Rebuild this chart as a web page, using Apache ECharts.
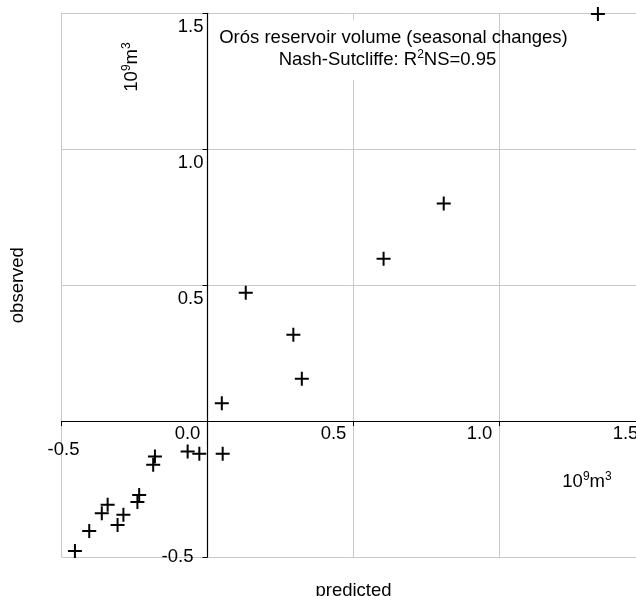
<!DOCTYPE html>
<html>
<head>
<meta charset="utf-8">
<title>Orós reservoir volume</title>
<script src="https://cdn.jsdelivr.net/npm/echarts@6/dist/echarts.min.js"></script>
<style>
  html, body {
    margin: 0;
    padding: 0;
    background: #fff;
  }
  #chart {
    width: 636px;
    height: 596px;
  }
</style>
</head>
<body>
<div id="chart"></div>
<script>
// seasonal volume changes, 10^9 m3
var predicted = [1.337, 0.809, 0.603, 0.131, 0.294, 0.323, 0.049, 0.052, -0.028, -0.068,
  -0.180, -0.186, -0.234, -0.240, -0.342, -0.362, -0.288, -0.308, -0.405, -0.454];
var observed = [1.497, 0.800, 0.597, 0.472, 0.318, 0.156, 0.066, -0.120, -0.120, -0.112,
  -0.130, -0.161, -0.272, -0.298, -0.308, -0.339, -0.345, -0.382, -0.404, -0.478];

var axisTicks = [-0.5, 0.0, 0.5, 1.0, 1.5];
var tickStep = 0.5;

var titleLine1 = "Orós reservoir volume (seasonal changes)";
var titleLine2 = "{n|Nash-Sutcliffe: R}{s|2}{n|NS=0.95}";
var unitText = "{n|10}{s|9}{n|m}{s|3}";

var font = "'Liberation Sans', Arial, sans-serif";
var fs = 18.5;

var points = [];
for (var i = 0; i < predicted.length; i++) {
  points.push([predicted[i], observed[i]]);
}

// plot box, axes cross at zero so shift them in by hand
var gridLeft = 61.5, gridTop = 13.3, gridW = 584, gridH = 543.7;
var lo = axisTicks[0], hi = axisTicks[axisTicks.length - 1];
var xShift = -gridH * (0 - lo) / (hi - lo);
var yShift = -gridW * (0 - lo) / (hi - lo);

// rich styles for text with superscripts
var supRich = {
  n: { fontSize: fs, fontFamily: font, color: "#000", lineHeight: 22 },
  s: { fontSize: 12, fontFamily: font, color: "#000", lineHeight: 12, verticalAlign: "top" }
};

var chart = echarts.init(document.getElementById("chart"), null, { renderer: "canvas" });

var option = {
  animation: false,
  backgroundColor: "#fff",
  grid: {
    left: gridLeft,
    top: gridTop,
    width: gridW,
    height: gridH,
    containLabel: false,
    outerBoundsMode: "none"
  },
  xAxis: {
    type: "value",
    position: "bottom",
    offset: xShift,
    min: lo,
    max: hi,
    interval: tickStep,
    name: "predicted",
    nameLocation: "middle",
    nameGap: 160,
    nameTextStyle: { fontSize: fs, fontFamily: font, color: "#000" },
    axisLine: { onZero: false, lineStyle: { color: "#000", width: 1.2 } },
    axisTick: { show: true, length: 5, lineStyle: { color: "#000" } },
    axisLabel: {
      margin: 3,
      align: "center",
      formatter: function (v) {
        var s = v.toFixed(1);
        if (v === lo) return "{m|" + s + "}";
        return "{r|" + s + "}";
      },
      rich: {
        r: { fontSize: fs, fontFamily: font, color: "#000", padding: [0, 40, 0, 0] },
        m: { fontSize: fs, fontFamily: font, color: "#000", padding: [16, 0, 0, 4] }
      }
    },
    splitLine: { show: true, lineStyle: { color: "#c9c9c9", width: 1 } }
  },
  yAxis: {
    type: "value",
    position: "left",
    offset: yShift,
    min: lo,
    max: hi,
    interval: tickStep,
    name: "observed",
    nameLocation: "middle",
    nameGap: 180,
    nameTextStyle: { fontSize: fs, fontFamily: font, color: "#000" },
    axisLine: { onZero: false, lineStyle: { color: "#000", width: 1.2 } },
    axisTick: { show: true, length: 5, lineStyle: { color: "#000" } },
    axisLabel: {
      margin: 4,
      align: "right",
      verticalAlign: "middle",
      formatter: function (v) {
        if (v === 0) return "";
        var s = v.toFixed(1);
        if (v === lo) return "{m|" + s + "}";
        return "{r|" + s + "}";
      },
      rich: {
        r: { fontSize: fs, fontFamily: font, color: "#000", padding: [28, 0, 0, 0] },
        m: { fontSize: fs, fontFamily: font, color: "#000", padding: [0, 10, 0, 0] }
      }
    },
    splitLine: { show: true, lineStyle: { color: "#c9c9c9", width: 1 } }
  },
  graphic: [
    {
      // white box behind the caption
      type: "rect",
      z: 5,
      shape: { x: 213, y: 20, width: 283, height: 60 },
      style: { fill: "#fff" }
    },
    {
      type: "text",
      z: 6,
      x: 393.5,
      y: 37.5,
      style: {
        text: titleLine1,
        fontSize: fs,
        fontFamily: font,
        fill: "#000",
        align: "center",
        verticalAlign: "middle"
      }
    },
    {
      type: "text",
      z: 6,
      x: 387.5,
      y: 60,
      style: {
        text: titleLine2,
        rich: supRich,
        fontSize: fs,
        fontFamily: font,
        fill: "#000",
        align: "center",
        verticalAlign: "middle"
      }
    },
    {
      type: "text",
      z: 6,
      x: 587,
      y: 482,
      style: {
        text: unitText,
        rich: supRich,
        fontSize: fs,
        fontFamily: font,
        fill: "#000",
        align: "center",
        verticalAlign: "middle"
      }
    },
    {
      type: "text",
      z: 6,
      x: 132,
      y: 67,
      rotation: Math.PI / 2,
      style: {
        text: unitText,
        rich: supRich,
        fontSize: fs,
        fontFamily: font,
        fill: "#000",
        align: "center",
        verticalAlign: "middle"
      }
    }
  ],
  series: [
    {
      type: "scatter",
      data: points,
      symbol: "path://M-1,-7h2v14h-2z M-7,-1h14v2h-14z",
      symbolSize: 14,
      itemStyle: { color: "#000", opacity: 1 },
      emphasis: { disabled: true },
      z: 10
    }
  ]
};

chart.setOption(option);
</script>
</body>
</html>
